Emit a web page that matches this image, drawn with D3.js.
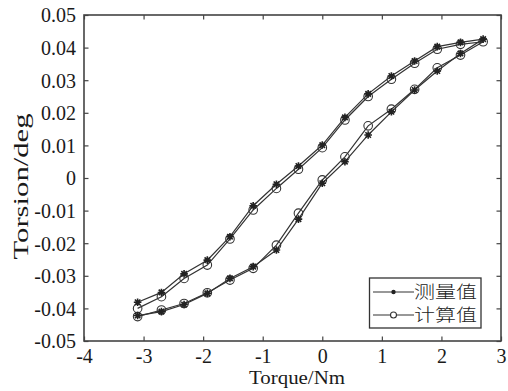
<!DOCTYPE html>
<html>
<head>
<meta charset="utf-8">
<script src="https://cdn.jsdelivr.net/npm/d3@7/dist/d3.min.js"></script>
<style>
html,body{margin:0;padding:0;background:#fff;}
svg{display:block;}
</style>
</head>
<body>
<svg id="chart" width="508" height="391"></svg>
<script>
// ---- data ----
const torque = [-3.1,-2.7,-2.32,-1.93,-1.55,-1.16,-0.77,-0.4,0,0.38,0.77,1.16,1.55,1.93,2.32,2.7,
                2.32,1.93,1.55,1.16,0.77,0.38,0,-0.4,-0.77,-1.16,-1.55,-1.93,-2.32,-2.7,-3.1];
const measured = [-0.0422,-0.041,-0.0388,-0.0354,-0.0308,-0.0272,-0.0221,-0.0126,-0.0016,0.005,0.0132,0.0203,0.027,0.0328,0.0382,0.0426,
                  0.0416,0.0403,0.0359,0.0313,0.0258,0.0186,0.0101,0.0037,-0.0019,-0.0085,-0.018,-0.0252,-0.0294,-0.0351,-0.0381];
const computed = [-0.0425,-0.0405,-0.0385,-0.0352,-0.0313,-0.0277,-0.0206,-0.0108,-0.0006,0.0065,0.016,0.0211,0.0272,0.0338,0.0377,0.0418,
                  0.041,0.0395,0.0352,0.0303,0.025,0.0178,0.0093,0.0027,-0.0032,-0.0098,-0.0187,-0.0267,-0.0308,-0.0364,-0.040];
const xTicks = [-4,-3,-2,-1,0,1,2,3];
const xTickLabels = ["-4","-3","-2","-1","0","1","2","3"];
const yTicks = [-0.05,-0.04,-0.03,-0.02,-0.01,0,0.01,0.02,0.03,0.04,0.05];
const yTickLabels = ["-0.05","-0.04","-0.03","-0.02","-0.01","0","0.01","0.02","0.03","0.04","0.05"];
const seriesNames = ["测量值","计算值"];
const xLabel = "Torque/Nm";
const yLabel = "Torsion/deg";

// ---- layout ----
const L = 84, R = 501, T = 15, B = 341;
const svg = d3.select("#chart");
const x = d3.scaleLinear().domain([-4,3]).range([L,R]);
const y = d3.scaleLinear().domain([-0.05,0.05]).range([B,T]);
const ink = "#333";
const serif = "'Liberation Serif','Times New Roman',Tinos,serif";

// axes with inward ticks
const tickLen = 4.5;
const gx = svg.append("g").attr("transform",`translate(0,${B})`)
  .call(d3.axisBottom(x).tickValues(xTicks).tickFormat((d,i)=>xTickLabels[i]).tickSizeInner(-tickLen).tickSizeOuter(0).tickPadding(8));
const gxTop = svg.append("g").attr("transform",`translate(0,${T})`)
  .call(d3.axisTop(x).tickValues(xTicks).tickFormat("").tickSizeInner(-tickLen).tickSizeOuter(0));
const gy = svg.append("g").attr("transform",`translate(${L},0)`)
  .call(d3.axisLeft(y).tickValues(yTicks).tickFormat((d,i)=>yTickLabels[i]).tickSizeInner(-tickLen).tickSizeOuter(0).tickPadding(8));
const gyR = svg.append("g").attr("transform",`translate(${R},0)`)
  .call(d3.axisRight(y).tickValues(yTicks).tickFormat("").tickSizeInner(-tickLen).tickSizeOuter(0));
[gx,gxTop,gy,gyR].forEach(g=>{
  g.attr("font-family",serif).attr("font-size",20);
  g.select(".domain").remove();
  g.selectAll(".tick line").attr("stroke","#444").attr("stroke-width",1.2);
  g.selectAll("text").attr("fill","#1a1a1a").style("font-family",serif).style("font-size","20px");
});
gy.selectAll(".tick text").attr("dy","0.34em");
gx.selectAll(".tick text").attr("dy","0.68em");

// box
svg.append("rect").attr("x",L).attr("y",T).attr("width",R-L).attr("height",B-T)
  .attr("fill","none").attr("stroke","#444").attr("stroke-width",1.6);

// axis labels
svg.append("text").attr("x",297).attr("y",384).attr("text-anchor","middle")
  .attr("textLength",96).attr("lengthAdjust","spacingAndGlyphs")
  .style("font-family",serif).style("font-size","19px").attr("fill","#1a1a1a").text(xLabel);
svg.append("text").attr("transform","translate(28,186.5) rotate(-90)").attr("text-anchor","middle")
  .attr("textLength",146).attr("lengthAdjust","spacingAndGlyphs")
  .style("font-family",serif).style("font-size","20px").attr("fill","#1a1a1a").text(yLabel);

// star marker path
function starPath(cx,cy,s){
  const d = s*0.72;
  return `M${cx-s},${cy}L${cx+s},${cy}M${cx},${cy-s}L${cx},${cy+s}M${cx-d},${cy-d}L${cx+d},${cy+d}M${cx-d},${cy+d}L${cx+d},${cy-d}`;
}

const line = d3.line().x(d=>x(d[0])).y(d=>y(d[1]));
const mData = torque.map((t,i)=>[t,measured[i]]);
const cData = torque.map((t,i)=>[t,computed[i]]);

svg.append("path").datum(cData).attr("d",line).attr("fill","none").attr("stroke",ink).attr("stroke-width",1.2);
svg.append("path").datum(mData).attr("d",line).attr("fill","none").attr("stroke",ink).attr("stroke-width",1.2);

svg.append("g").selectAll("circle").data(cData).join("circle")
  .attr("cx",d=>x(d[0])).attr("cy",d=>y(d[1])).attr("r",4.3)
  .attr("fill","none").attr("stroke",ink).attr("stroke-width",1.1);
svg.append("g").selectAll("path").data(mData).join("path")
  .attr("d",d=>starPath(x(d[0]),y(d[1]),3.8))
  .attr("fill","none").attr("stroke","#222").attr("stroke-width",1.6);

// legend
const lg = svg.append("g");
lg.append("rect").attr("x",369.5).attr("y",278).attr("width",111.5).attr("height",50)
  .attr("fill","#fff").attr("stroke","#333").attr("stroke-width",1.3);
const rows = [292,315];
rows.forEach((ry,i)=>{
  lg.append("line").attr("x1",373).attr("x2",414).attr("y1",ry).attr("y2",ry).attr("stroke",ink).attr("stroke-width",1.2);
  if(i===0){
    lg.append("circle").attr("cx",393.5).attr("cy",ry).attr("r",2.2).attr("fill","#222");
  } else {
    lg.append("circle").attr("cx",393.5).attr("cy",ry).attr("r",3).attr("fill","#fff").attr("stroke",ink).attr("stroke-width",1.1);
  }
  lg.append("text").attr("x",414).attr("y",ry).attr("dy","0.36em")
    .attr("textLength",63).attr("lengthAdjust","spacingAndGlyphs")
    .style("font-family","'Noto Sans CJK SC',sans-serif").style("font-size","17px").style("font-weight","300")
    .attr("fill","#222").text(seriesNames[i]);
});
</script>
</body>
</html>
